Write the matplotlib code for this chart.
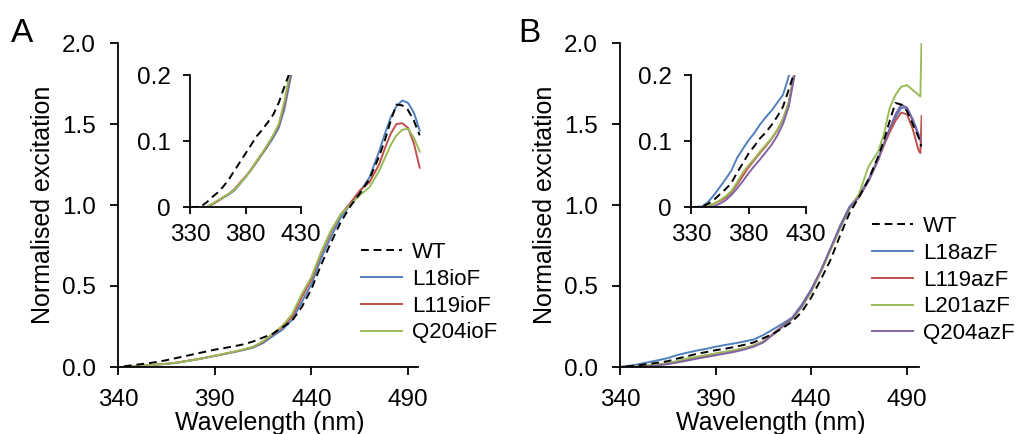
import numpy as np
import matplotlib
matplotlib.use("Agg")
import matplotlib.pyplot as plt

plt.rcParams['font.family'] = ['Liberation Sans', 'DejaVu Sans']

# ---- panel A: ioF mutants ----
wl_a = [330, 335, 340, 345, 350, 355, 360, 365, 370, 375, 380, 385, 390, 395,
        400, 405, 410, 415, 420, 425, 430, 435, 440, 445, 450, 455, 460, 465,
        470, 475, 478, 481, 484, 487, 490, 493, 496]
wt_a = [0.000, 0.000, 0.001, 0.007, 0.015, 0.022, 0.031, 0.042, 0.055, 0.068,
        0.081, 0.094, 0.107, 0.117, 0.128, 0.140, 0.158, 0.182, 0.205, 0.245,
        0.285, 0.370, 0.480, 0.630, 0.765, 0.890, 0.990, 1.070, 1.160, 1.300,
        1.400, 1.520, 1.620, 1.615, 1.585, 1.520, 1.430]
l18_a = [0.000, -0.001, -0.002, 0.000, 0.004, 0.009, 0.014, 0.019, 0.025, 0.035,
         0.045, 0.056, 0.068, 0.080, 0.092, 0.105, 0.120, 0.148, 0.190, 0.230,
         0.290, 0.400, 0.510, 0.670, 0.800, 0.920, 1.000, 1.080, 1.170, 1.330,
         1.440, 1.540, 1.610, 1.645, 1.630, 1.570, 1.460]
l119_a = [0.000, -0.001, -0.002, 0.000, 0.004, 0.009, 0.015, 0.020, 0.027, 0.037,
          0.046, 0.057, 0.069, 0.081, 0.094, 0.108, 0.124, 0.155, 0.200, 0.245,
          0.310, 0.430, 0.540, 0.700, 0.830, 0.940, 1.010, 1.090, 1.140, 1.250,
          1.350, 1.440, 1.500, 1.505, 1.475, 1.380, 1.230]
q204_a = [0.000, -0.001, -0.002, 0.000, 0.005, 0.010, 0.015, 0.020, 0.026, 0.036,
          0.045, 0.057, 0.070, 0.082, 0.095, 0.109, 0.126, 0.160, 0.205, 0.255,
          0.325, 0.450, 0.555, 0.710, 0.840, 0.940, 1.000, 1.060, 1.110, 1.210,
          1.290, 1.370, 1.430, 1.465, 1.470, 1.415, 1.330]

# ---- panel B: azF mutants ----
wl_b = [330, 335, 340, 345, 350, 355, 360, 365, 370, 375, 380, 385, 390, 395,
        400, 405, 410, 415, 420, 425, 430, 435, 440, 445, 450, 455, 460, 465,
        470, 475, 478, 481, 484, 487, 490, 493, 496, 497, 497.7]
wt_b = [0.000, 0.000, 0.001, 0.005, 0.011, 0.019, 0.027, 0.036, 0.052, 0.066,
        0.081, 0.092, 0.104, 0.113, 0.124, 0.137, 0.152, 0.178, 0.205, 0.240,
        0.280, 0.340, 0.430, 0.540, 0.660, 0.810, 0.950, 1.050, 1.160, 1.300,
        1.400, 1.520, 1.630, 1.620, 1.580, 1.500, 1.420, 1.380, 1.360]
l18_b = [0.000, 0.000, 0.001, 0.008, 0.018, 0.030, 0.042, 0.055, 0.074, 0.088,
         0.101, 0.112, 0.125, 0.136, 0.146, 0.158, 0.170, 0.198, 0.232, 0.268,
         0.305, 0.385, 0.480, 0.595, 0.730, 0.870, 0.990, 1.060, 1.160, 1.290,
         1.380, 1.470, 1.540, 1.600, 1.600, 1.530, 1.440, 1.400, 1.380]
l119_b = [0.000, 0.000, 0.000, 0.002, 0.005, 0.009, 0.014, 0.022, 0.034, 0.047,
          0.060, 0.071, 0.082, 0.092, 0.103, 0.116, 0.133, 0.158, 0.205, 0.255,
          0.300, 0.375, 0.470, 0.590, 0.725, 0.860, 0.980, 1.050, 1.150, 1.280,
          1.370, 1.450, 1.520, 1.570, 1.560, 1.470, 1.340, 1.320, 1.550]
l201_b = [0.000, 0.000, 0.000, 0.002, 0.005, 0.010, 0.016, 0.024, 0.037, 0.052,
          0.063, 0.073, 0.084, 0.094, 0.104, 0.117, 0.133, 0.158, 0.200, 0.250,
          0.295, 0.370, 0.465, 0.585, 0.720, 0.855, 0.975, 1.070, 1.240, 1.330,
          1.440, 1.600, 1.680, 1.730, 1.740, 1.710, 1.680, 1.670, 2.050]
q204_b = [0.000, 0.000, 0.000, 0.000, 0.001, 0.005, 0.010, 0.018, 0.028, 0.039,
          0.051, 0.062, 0.072, 0.083, 0.094, 0.108, 0.126, 0.152, 0.200, 0.250,
          0.300, 0.375, 0.475, 0.595, 0.730, 0.865, 0.985, 1.050, 1.150, 1.280,
          1.380, 1.470, 1.560, 1.620, 1.600, 1.520, 1.430, 1.410, 1.400]

series_a = [("WT", wt_a), ("L18ioF", l18_a), ("L119ioF", l119_a), ("Q204ioF", q204_a)]
series_b = [("WT", wt_b), ("L18azF", l18_b), ("L119azF", l119_b),
            ("L201azF", l201_b), ("Q204azF", q204_b)]
colours_a = ['black', '#4F81BD', '#C0504D', '#9BBB59']
colours_b = ['black', '#4F81BD', '#C0504D', '#9BBB59', '#8064A2']

W, H = 1018, 434
LW = 1.4


def style_axes(ax, tick_len, ypad, xpad):
    for s in ['top', 'right']:
        ax.spines[s].set_visible(False)
    for s in ['left', 'bottom']:
        ax.spines[s].set_linewidth(1.3)
    ax.tick_params(direction='out', length=tick_len, width=1.3, labelsize=17.5)
    ax.tick_params(axis='y', pad=ypad)
    ax.tick_params(axis='x', pad=xpad)


def draw_lines(ax, wl, series, colours):
    handles = []
    for (name, vals), c in zip(series, colours):
        if name == "WT":
            h, = ax.plot(wl, vals, color=c, lw=LW, dashes=(4, 2.5), label=name, zorder=5)
        else:
            h, = ax.plot(wl, vals, color=c, lw=LW, label=name)
        handles.append(h)
    return handles


fig = plt.figure(figsize=(W / 100, H / 100), dpi=100)

panels = [
    # main left px, x scale px/nm, xmax, spine end, inset left, inset width, wl, series, colours, letter, legend pos, letter x
    (118, 1.934, 496.5, 495.3, 190, 111, wl_a, series_a, colours_a, 'A', (361, 240), 11),
    (620, 1.913, 498.0, 496.3, 691, 115, wl_b, series_b, colours_b, 'B', (872, 214), 518),
]

for (left, sx, xmax, xend, ileft, iw, wl, series, colours, letter, lpos, letx) in panels:
    ax = fig.add_axes([left / W, 67 / H, (xmax - 340) * sx / W, 324 / H])
    handles = draw_lines(ax, wl, series, colours)
    ax.set_xlim(340, xmax)
    ax.set_ylim(0, 2.0)
    ax.spines['bottom'].set_bounds(340, xend)
    ax.set_xticks([340, 390, 440, 490])
    ax.set_yticks([0, 0.5, 1.0, 1.5, 2.0])
    ax.set_yticklabels(['0.0', '0.5', '1.0', '1.5', '2.0'])
    style_axes(ax, 6, 10, 10)
    ax.set_xlabel('Wavelength (nm)', fontsize=18, labelpad=0)
    ax.set_ylabel('Normalised excitation', fontsize=18, labelpad=5)

    ins = fig.add_axes([ileft / W, (H - 207) / H, iw / W, 132 / H])
    ins.patch.set_alpha(0)
    draw_lines(ins, wl, series, colours)
    ins.set_xlim(330, 430)
    ins.set_ylim(0, 0.2)
    ins.set_xticks([330, 380, 430])
    ins.set_yticks([0, 0.1, 0.2])
    ins.set_yticklabels(['0', '0.1', '0.2'])
    style_axes(ins, 5, 9, 7)

    fig.legend(handles=handles, loc='upper left',
               bbox_to_anchor=(lpos[0] / W, 1 - (lpos[1] + 2) / H),
               frameon=False, fontsize=16, handlelength=1.85, handletextpad=0.45,
               labelspacing=0.26, borderpad=0, borderaxespad=0)
    fig.text(letx / W, 1 - 42 / H, letter, fontsize=24, va='baseline', ha='left')

fig.savefig('out.png', dpi=100)
